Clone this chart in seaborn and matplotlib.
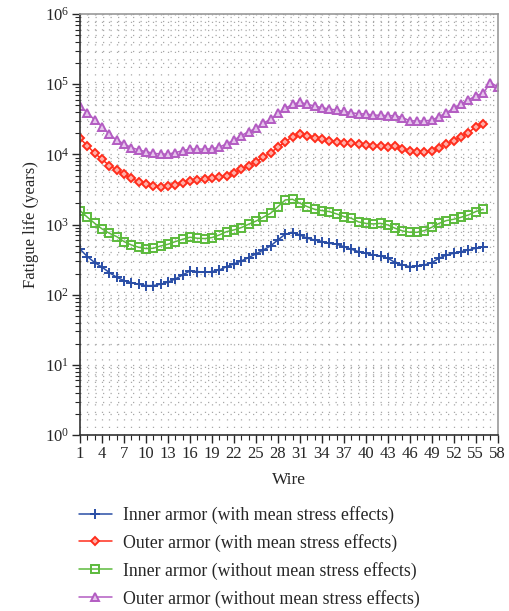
import matplotlib
matplotlib.use('Agg')
import matplotlib.pyplot as plt
import matplotlib.ticker as mticker
import seaborn as sns
import pandas as pd

# Wire numbers
wires = list(range(1, 57))
wires_long = list(range(1, 59))

# Fatigue life (years)
inner_mean = [445, 349, 287, 247, 207, 177, 159, 149, 141, 135,
              135, 141, 151, 168, 191, 218, 214, 209, 214, 225,
              251, 275, 303, 338, 381, 434, 495, 604, 728, 767,
              711, 638, 604, 571, 541, 524, 484, 445, 411, 390,
              369, 357, 331, 287, 266, 251, 257, 266, 287, 331,
              369, 390, 411, 434, 459, 484]
outer_mean = [16900, 13200, 10400, 8510, 6910, 6000, 5200, 4570, 4090, 3750,
              3550, 3470, 3550, 3660, 3870, 4180, 4320, 4420, 4570, 4700,
              4920, 5490, 6130, 6910, 7880, 9100, 10600, 12600, 15200, 17900,
              19300, 18300, 16900, 16400, 15700, 15200, 14700, 14400, 14100, 13600,
              13200, 13200, 12900, 13200, 11900, 11200, 10700, 10700, 11200, 12500,
              14100, 15700, 17900, 20400, 24800, 26800]
inner_nomean = [1580, 1270, 1040, 866, 751, 673, 571, 512, 474, 454,
                459, 495, 524, 571, 617, 659, 638, 631, 652, 710,
                793, 838, 904, 1010, 1120, 1270, 1450, 1800, 2240, 2290,
                2010, 1800, 1650, 1580, 1530, 1420, 1300, 1230, 1090, 1040,
                1020, 1040, 986, 885, 811, 776, 776, 819, 914, 1040,
                1140, 1190, 1270, 1370, 1530, 1650]
outer_nomean = [48900, 39300, 30900, 24800, 19300, 16000, 14100, 12500, 11600, 10900,
                10400, 10100, 10100, 10600, 11300, 11900, 11900, 11900, 12000, 12700,
                14100, 16000, 18500, 21100, 23500, 27800, 31700, 38500, 45400, 51800,
                55300, 51800, 48900, 46300, 44300, 42900, 41100, 39300, 38000, 37600,
                36400, 36000, 35600, 35600, 33400, 30200, 29900, 29900, 30900, 34500,
                39300, 45400, 52300, 59600, 68600, 74100, 105000, 92300]

labels = ['Inner armor (with mean stress effects)',
          'Outer armor (with mean stress effects)',
          'Inner armor (without mean stress effects)',
          'Outer armor (without mean stress effects)']

sns.set_style("ticks")
plt.rcParams['font.family'] = ['Liberation Serif', 'DejaVu Serif']
plt.rcParams['mathtext.fontset'] = 'custom'
plt.rcParams['mathtext.rm'] = 'Liberation Serif'

fig = plt.figure(figsize=(5.1, 6.11), dpi=100)
ax = fig.add_axes([0.157, 0.288, 0.819, 0.689])

series = [
    (wires, inner_mean, '#2a4ea6', '+', 'none', 7),
    (wires, outer_mean, '#ff2d1c', 'D', '#ffb0a8', 4.5),
    (wires, inner_nomean, '#5cba3c', 's', 'none', 5.5),
    (wires_long, outer_nomean, '#b35cc2', '^', '#e6c6ec', 6),
]
for (x, y, col, mk, mfc, ms), lab in zip(series, labels):
    df = pd.DataFrame({'wire': x, 'life': y})
    sns.lineplot(data=df, x='wire', y='life', ax=ax, color=col, marker=mk,
                 markersize=ms, markerfacecolor=mfc, markeredgecolor=col,
                 markeredgewidth=1.4, linewidth=1.1, label=lab, legend=False)

ax.set_yscale('log')
ax.set_ylim(1, 1e6)
ax.set_xlim(1, 58)
ax.xaxis.set_major_locator(mticker.FixedLocator(list(range(1, 59, 3))))
ax.xaxis.set_minor_locator(mticker.MultipleLocator(1))
ax.yaxis.set_major_locator(mticker.LogLocator(base=10, numticks=10))
ax.yaxis.set_minor_locator(mticker.LogLocator(base=10, subs=range(2, 10), numticks=20))
ax.yaxis.set_minor_formatter(mticker.NullFormatter())

ax.grid(True, which='both', linestyle=(0, (1, 5)), linewidth=0.9, color='#a8a8a8')
ax.tick_params(which='major', direction='out', length=6, width=1, labelsize=12, pad=2)
ax.tick_params(which='minor', direction='out', length=3.5, width=0.8)

for s in ['top', 'right']:
    ax.spines[s].set_color('#999999')
    ax.spines[s].set_linewidth(1.2)
for s in ['left', 'bottom']:
    ax.spines[s].set_color('#333333')
    ax.spines[s].set_linewidth(1.2)

ax.set_xlabel('Wire', fontsize=12.5, labelpad=7)
ax.set_ylabel('Fatigue life (years)', fontsize=12, labelpad=4)

handles, labs = ax.get_legend_handles_labels()
fig.legend(handles, labs, loc='upper left', bbox_to_anchor=(0.155, 0.172),
           frameon=False, fontsize=12.8, borderpad=0, borderaxespad=0,
           handlelength=1.85, handletextpad=0.65, labelspacing=0.56)

fig.savefig('out.png', dpi=100)
plt.close(fig)
